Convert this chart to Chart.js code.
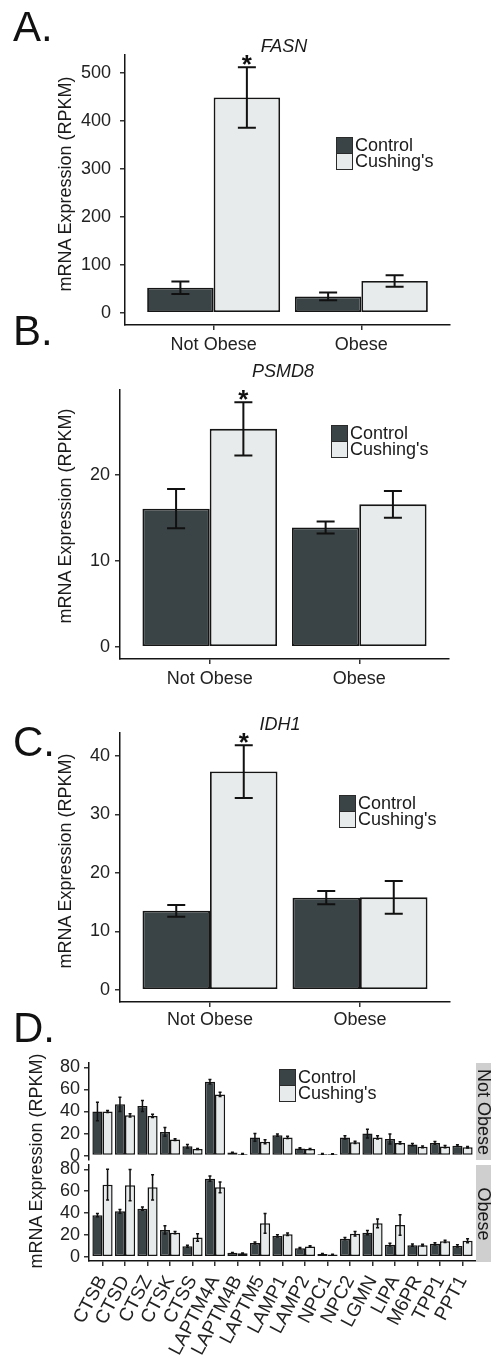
<!DOCTYPE html>
<html>
<head>
<meta charset="utf-8">
<script src="https://cdn.jsdelivr.net/npm/chart.js@4.4.0/dist/chart.umd.min.js"></script>
<style>
  body {
    margin: 0;
    width: 491px;
    height: 1355px;
    position: relative;
    overflow: hidden;
    background: #fff;
    font-family: "Liberation Sans", Arial, sans-serif;
    color: #1a1a1a;
  }
  canvas { position: absolute; left: 0; }
  .letter { position: absolute; left: 13px; font-size: 42px; line-height: 1; color: #111; }
  .gene {
    position: absolute; font-size: 18px; font-style: italic; line-height: 1;
    transform: translate(-50%, -50%); white-space: nowrap;
  }
  .ytitle {
    position: absolute; font-size: 18px; line-height: 1; white-space: nowrap;
    transform: translate(-50%, -50%) rotate(-90deg);
  }
  .legend { position: absolute; font-size: 18px; }
  .legend .row { display: flex; align-items: center; height: 16.5px; }
  .legend .key {
    width: 17px; height: 17px; box-sizing: border-box;
    border: 1.5px solid #2a2a2a; margin-right: 2px;
  }
  .legend .row + .row .key { margin-top: -1px; }
  .strip { position: absolute; left: 476px; width: 30px; background: #cfcfcf; }
  .strip span {
    position: absolute; left: 8px; top: 50%; font-size: 18px; line-height: 1;
    white-space: nowrap; transform: translate(-50%, -50%) rotate(90deg);
  }
</style>
</head>
<body>

<canvas id="chartA" width="491" height="365" style="top:0px"></canvas>
<canvas id="chartB" width="491" height="400" style="top:300px"></canvas>
<canvas id="chartC" width="491" height="360" style="top:680px"></canvas>
<canvas id="chartD1" width="491" height="125" style="top:1040px"></canvas>
<canvas id="chartD2" width="491" height="205" style="top:1150px"></canvas>

<div class="letter" style="top:6px">A.</div>
<div class="letter" style="top:310px">B.</div>
<div class="letter" style="top:721px">C.</div>
<div class="letter" style="top:1007px">D.</div>

<div class="gene" style="left:284px; top:46px">FASN</div>
<div class="gene" style="left:283px; top:371px">PSMD8</div>
<div class="gene" style="left:280px; top:724px">IDH1</div>

<div class="ytitle" style="left:65px; top:184px">mRNA Expression (RPKM)</div>
<div class="ytitle" style="left:65px; top:516px">mRNA Expression (RPKM)</div>
<div class="ytitle" style="left:65px; top:861px">mRNA Expression (RPKM)</div>
<div class="ytitle" style="left:36px; top:1161px">mRNA Expression (RPKM)</div>

<div class="legend" id="legA" style="left:336px; top:137px"></div>
<div class="legend" id="legB" style="left:331px; top:425px"></div>
<div class="legend" id="legC" style="left:339px; top:795px"></div>
<div class="legend" id="legD" style="left:279px; top:1069px"></div>

<div class="strip" style="top:1063px; height:97px"><span>Not Obese</span></div>
<div class="strip" style="top:1165px; height:97px"><span>Obese</span></div>

<script>
// ------------------------
// DATA
// ------------------------
const groups = ["Not Obese", "Obese"];
const seriesNames = ["Control", "Cushing's"];

// A. FASN
const fasnControl = [52, 34];
const fasnControlErr = [13, 8];
const fasnCushing = [448, 66];
const fasnCushingErr = [63, 12];
const fasnTicks = [0, 100, 200, 300, 400, 500];

// B. PSMD8
const psmd8Control = [16.1, 13.9];
const psmd8ControlErr = [2.3, 0.7];
const psmd8Cushing = [25.4, 16.6];
const psmd8CushingErr = [3.1, 1.55];
const psmd8Ticks = [0, 10, 20];

// C. IDH1
const idh1Control = [13.5, 15.75];
const idh1ControlErr = [1.0, 1.15];
const idh1Cushing = [37.3, 15.8];
const idh1CushingErr = [4.5, 2.8];
const idh1Ticks = [0, 10, 20, 30, 40];

// significance marks on the Cushing's bars (A-C)
const starred = [true, false];

// D. lysosomal genes
const genes = ["CTSB", "CTSD", "CTSZ", "CTSK", "CTSS", "LAPTM4A", "LAPTM4B", "LAPTM5",
  "LAMP1", "LAMP2", "NPC1", "NPC2", "LGMN", "LIPA", "M6PR", "TPP1", "PPT1"];

const notObeseControl    = [40, 46.5, 45, 21.5, 8.5, 67, 2.7, 16.5, 18.5, 6.5, 1.5, 16.5, 20, 15, 10, 11.5, 9];
const notObeseControlErr = [8.5, 6.5, 5, 4, 1.5, 2, 0.4, 3.5, 1, 0.7, 0.3, 1.5, 4, 4.5, 1, 1.2, 0.8];
const notObeseCushing    = [40, 36.5, 36, 14.5, 6, 55.5, 1.5, 12.5, 16.5, 6, 1.5, 12, 16.5, 11.5, 8, 8.2, 7.6];
const notObeseCushingErr = [1, 1.5, 1.5, 0.8, 0.5, 2, 0.3, 1.8, 1, 0.5, 0.2, 1, 1.5, 1, 0.8, 1, 0.6];

const obeseControl    = [38, 41.5, 44, 24.5, 9.5, 71.5, 3.5, 12.5, 19, 7.8, 2.5, 16.5, 22, 11, 10.5, 11.7, 9.8];
const obeseControlErr = [1.5, 1.8, 1.5, 3.8, 1, 2.4, 0.4, 1, 1, 0.6, 0.3, 1, 2, 1.2, 1, 1, 1];
const obeseCushing    = [66, 65.5, 63.5, 22, 17.5, 63.5, 3, 30.5, 20.5, 9.3, 2, 21, 30.5, 29, 10.5, 14, 14.5];
const obeseCushingErr = [14, 14.3, 11.5, 1, 3.5, 5, 0.3, 9, 1.2, 0.6, 0.2, 2, 4, 9.5, 0.8, 1, 1.8];

const lysoTicks = [0, 20, 40, 60, 80];

// ------------------------
// STYLE
// ------------------------
const CONTROL_COLOR = "#3a4345";
const CUSHING_COLOR = "#e8ebeb";
const EDGE_COLOR = "#151515";

Chart.defaults.font.family = '"Liberation Sans", Arial, sans-serif';
Chart.defaults.font.size = 18;
Chart.defaults.color = "#222";

// ------------------------
// ERROR BAR PLUGIN
// ------------------------
const errorBars = {
  id: "errorBars",
  afterDatasetsDraw(chart, args, opts) {
    const ctx = chart.ctx;
    const yScale = chart.scales.y;
    ctx.save();
    ctx.strokeStyle = "#111";
    ctx.fillStyle = "#111";
    ctx.lineWidth = opts.width;
    ctx.font = 'bold 26px "Liberation Sans", Arial, sans-serif';
    ctx.textAlign = "center";
    ctx.textBaseline = "alphabetic";

    chart.data.datasets.forEach((ds, i) => {
      const meta = chart.getDatasetMeta(i);
      meta.data.forEach((bar, j) => {
        const v = ds.data[j].y;
        const e = ds.errors[j];
        const top = yScale.getPixelForValue(v + e);
        const bot = yScale.getPixelForValue(v - e);
        const c = opts.cap / 2;

        ctx.beginPath();
        ctx.moveTo(bar.x, top);
        ctx.lineTo(bar.x, bot);
        if (c > 0) {
          ctx.moveTo(bar.x - c, top);
          ctx.lineTo(bar.x + c, top);
          ctx.moveTo(bar.x - c, bot);
          ctx.lineTo(bar.x + c, bot);
        }
        ctx.stroke();

        if (ds.stars && ds.stars[j]) {
          ctx.fillText("*", bar.x, top + 6);
        }
      });
    });
    ctx.restore();
  }
};

// ------------------------
// HELPERS
// ------------------------
function toPoints(values) {
  return values.map((v, i) => ({ x: i + 1, y: v }));
}

function yRange(list) {
  let top = 0;
  list.forEach(([vals, errs]) => {
    vals.forEach((v, i) => { top = Math.max(top, v + errs[i]); });
  });
  return { min: -0.05 * top, max: 1.05 * top };
}

function makeBarChart(id, o) {
  const ctx = document.getElementById(id).getContext("2d");

  return new Chart(ctx, {
    type: "bar",
    data: {
      datasets: [{
        label: seriesNames[0],
        data: toPoints(o.control),
        errors: o.controlErr,
        backgroundColor: CONTROL_COLOR
      }, {
        label: seriesNames[1],
        data: toPoints(o.cushing),
        errors: o.cushingErr,
        stars: o.stars,
        backgroundColor: CUSHING_COLOR
      }]
    },
    options: {
      responsive: false,
      animation: false,
      devicePixelRatio: 1,
      layout: { padding: o.padding },
      datasets: {
        bar: {
          categoryPercentage: 0.9,
          barPercentage: 1,
          borderColor: EDGE_COLOR,
          borderWidth: o.edge,
          borderSkipped: false
        }
      },
      plugins: {
        legend: { display: false },
        tooltip: { enabled: false },
        errorBars: { cap: o.cap, width: o.errWidth }
      },
      scales: {
        x: {
          type: "linear",
          display: o.showX,
          offset: false,
          min: 0.4,
          max: o.labels.length + 0.6,
          afterBuildTicks: (s) => { s.ticks = o.labels.map((l, i) => ({ value: i + 1 })); },
          afterFit: (s) => {
            s.height = o.xHeight;
            s.paddingLeft = 0;
            s.paddingRight = 0;
          },
          ticks: {
            autoSkip: false,
            padding: o.xPad,
            font: { size: o.xFont },
            color: "#222",
            maxRotation: o.rotation,
            minRotation: o.rotation,
            callback: (v) => o.labels[Math.round(v) - 1]
          },
          grid: {
            display: true, offset: false, drawOnChartArea: false, drawTicks: true,
            tickLength: 5, color: "#333", lineWidth: 1.5
          },
          border: { display: true, color: EDGE_COLOR, width: 1.5 }
        },
        y: {
          type: "linear",
          min: o.range.min,
          max: o.range.max,
          afterBuildTicks: (s) => { s.ticks = o.yTicks.map(v => ({ value: v })); },
          afterFit: (s) => {
            s.width = o.yWidth;
            s.paddingTop = 0;
            s.paddingBottom = 0;
          },
          ticks: { autoSkip: false, padding: o.yPad, color: "#222", font: { size: 18 } },
          grid: { display: true, drawOnChartArea: false, drawTicks: true, tickLength: 5, color: "#333", lineWidth: 1.5 },
          border: { display: true, color: EDGE_COLOR, width: 1.5 }
        }
      }
    },
    plugins: [errorBars]
  });
}

function buildLegend(id) {
  const el = document.getElementById(id);
  [CONTROL_COLOR, CUSHING_COLOR].forEach((color, i) => {
    const row = document.createElement("div");
    row.className = "row";
    const key = document.createElement("div");
    key.className = "key";
    key.style.background = color;
    const txt = document.createElement("span");
    txt.textContent = seriesNames[i];
    row.appendChild(key);
    row.appendChild(txt);
    el.appendChild(row);
  });
}

// ------------------------
// PANELS A - C
// ------------------------
makeBarChart("chartA", {
  labels: groups,
  control: fasnControl, controlErr: fasnControlErr,
  cushing: fasnCushing, cushingErr: fasnCushingErr,
  stars: starred,
  yTicks: fasnTicks,
  range: yRange([[fasnControl, fasnControlErr], [fasnCushing, fasnCushingErr]]),
  padding: { left: 0, top: 55, right: 41, bottom: 0 },
  yWidth: 125, xHeight: 40, xPad: 4, yPad: 9, xFont: 18, rotation: 0,
  showX: true, edge: 1.8, cap: 18, errWidth: 2
});

makeBarChart("chartB", {
  labels: groups,
  control: psmd8Control, controlErr: psmd8ControlErr,
  cushing: psmd8Cushing, cushingErr: psmd8CushingErr,
  stars: starred,
  yTicks: psmd8Ticks,
  range: yRange([[psmd8Control, psmd8ControlErr], [psmd8Cushing, psmd8CushingErr]]),
  padding: { left: 0, top: 90, right: 42, bottom: 0 },
  yWidth: 120, xHeight: 41, xPad: 4, yPad: 5, xFont: 18, rotation: 0,
  showX: true, edge: 1.8, cap: 18, errWidth: 2
});

makeBarChart("chartC", {
  labels: groups,
  control: idh1Control, controlErr: idh1ControlErr,
  cushing: idh1Cushing, cushingErr: idh1CushingErr,
  stars: starred,
  yTicks: idh1Ticks,
  range: yRange([[idh1Control, idh1ControlErr], [idh1Cushing, idh1CushingErr]]),
  padding: { left: 0, top: 53, right: 41, bottom: 0 },
  yWidth: 120, xHeight: 38, xPad: 2, yPad: 5, xFont: 18, rotation: 0,
  showX: true, edge: 1.8, cap: 18, errWidth: 2
});

// ------------------------
// PANEL D (two facets, shared y range)
// ------------------------
const lysoRange = yRange([
  [notObeseControl, notObeseControlErr], [notObeseCushing, notObeseCushingErr],
  [obeseControl, obeseControlErr], [obeseCushing, obeseCushingErr]
]);

makeBarChart("chartD1", {
  labels: genes,
  control: notObeseControl, controlErr: notObeseControlErr,
  cushing: notObeseCushing, cushingErr: notObeseCushingErr,
  yTicks: lysoTicks,
  range: lysoRange,
  padding: { left: 0, top: 23, right: 15, bottom: 5 },
  yWidth: 89, xHeight: 0, xPad: 4, yPad: 4, xFont: 19, rotation: 0,
  showX: false, edge: 1.5, cap: 3, errWidth: 1.5
});

makeBarChart("chartD2", {
  labels: genes,
  control: obeseControl, controlErr: obeseControlErr,
  cushing: obeseCushing, cushingErr: obeseCushingErr,
  yTicks: lysoTicks,
  range: lysoRange,
  padding: { left: 0, top: 15, right: 15, bottom: 0 },
  yWidth: 89, xHeight: 94, xPad: 6, yPad: 4, xFont: 19, rotation: 62,
  showX: true, edge: 1.5, cap: 3, errWidth: 1.5
});

// ------------------------
// LEGENDS
// ------------------------
["legA", "legB", "legC", "legD"].forEach(buildLegend);
</script>
</body>
</html>
